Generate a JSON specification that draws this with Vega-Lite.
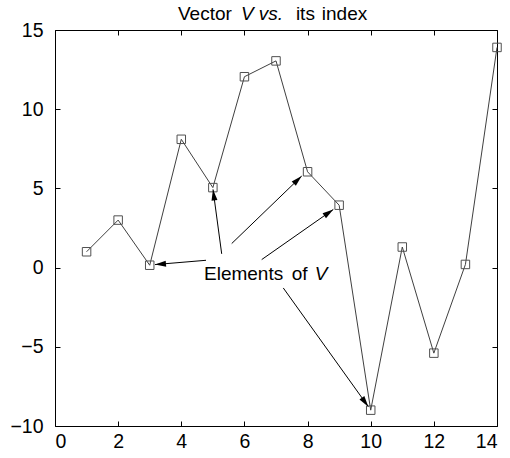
{
  "$schema": "https://vega.github.io/schema/vega-lite/v6.json",
  "width": 442,
  "height": 396,
  "autosize": "none",
  "padding": {"left": 55, "top": 30, "right": 13, "bottom": 32},
  "background": "white",
  "config": {
    "view": {"stroke": null},
    "font": "Liberation Sans",
    "axis": {
      "grid": false,
      "domainColor": "#000000",
      "domainWidth": 1,
      "tickColor": "#000000",
      "tickWidth": 1,
      "tickSize": -5,
      "labelFont": "Liberation Sans",
      "labelFontSize": 19.5,
      "labelColor": "#000000",
      "title": null
    }
  },
  "datasets": {
    "v": [
      {"index": 1, "value": 1.0},
      {"index": 2, "value": 3.0},
      {"index": 3, "value": 0.15},
      {"index": 4, "value": 8.1},
      {"index": 5, "value": 5.05},
      {"index": 6, "value": 12.05},
      {"index": 7, "value": 13.05},
      {"index": 8, "value": 6.05},
      {"index": 9, "value": 3.94},
      {"index": 10, "value": -9.0},
      {"index": 11, "value": 1.3},
      {"index": 12, "value": -5.4},
      {"index": 13, "value": 0.2},
      {"index": 14, "value": 13.9}
    ],
    "arrows": [
      {"x": 4.783, "y": 0.462, "x2": 3.167, "y2": 0.19},
      {"x": 5.28, "y": 0.867, "x2": 5.005, "y2": 4.937},
      {"x": 5.597, "y": 1.519, "x2": 7.814, "y2": 5.778},
      {"x": 6.547, "y": 0.506, "x2": 8.815, "y2": 3.671},
      {"x": 7.231, "y": -1.285, "x2": 9.924, "y2": -8.778}
    ],
    "plainText": [
      {"text": "Elements", "x": 4.72, "y": -0.78},
      {"text": "of", "x": 7.5, "y": -0.78},
      {"text": "Vector", "x": 3.894, "y": 15.6},
      {"text": "its", "x": 7.63, "y": 15.6},
      {"text": "index", "x": 8.45, "y": 15.6}
    ],
    "italicText": [
      {"text": "V", "x": 8.23, "y": -0.78},
      {"text": "V vs.", "x": 5.888, "y": 15.6}
    ]
  },
  "layer": [
    {
      "data": {"name": "v"},
      "mark": {"type": "line", "color": "#404040", "strokeWidth": 1},
      "encoding": {
        "x": {"field": "index", "type": "quantitative",
              "scale": {"domain": [0, 14], "nice": false, "zero": false},
              "axis": {"orient": "bottom", "values": [0, 2, 4, 6, 8, 10, 12, 14], "labelPadding": 11}},
        "y": {"field": "value", "type": "quantitative",
              "scale": {"domain": [-10, 15], "nice": false, "zero": false},
              "axis": {"orient": "left", "values": [-10, -5, 0, 5, 10, 15], "labelPadding": 17}}
      }
    },
    {
      "data": {"name": "v"},
      "mark": {"type": "point", "shape": "square", "filled": false, "size": 72, "stroke": "#505050", "strokeWidth": 1, "opacity": 1},
      "encoding": {
        "x": {"field": "index", "type": "quantitative",
              "axis": {"orient": "top", "values": [0, 2, 4, 6, 8, 10, 12, 14], "labels": false}},
        "y": {"field": "value", "type": "quantitative",
              "axis": {"orient": "right", "values": [-10, -5, 0, 5, 10, 15], "labels": false}}
      }
    },
    {
      "data": {"name": "arrows"},
      "mark": {"type": "rule", "color": "#000000", "strokeWidth": 1},
      "encoding": {
        "x": {"field": "x", "type": "quantitative", "axis": null},
        "y": {"field": "y", "type": "quantitative", "axis": null},
        "x2": {"field": "x2"},
        "y2": {"field": "y2"}
      }
    },
    {
      "data": {"name": "arrows"},
      "transform": [
        {"calculate": "atan2((datum.x2 - datum.x) * 31.59, (datum.y2 - datum.y) * 15.86) * 180 / PI", "as": "angle"}
      ],
      "mark": {"type": "point", "shape": "M0,0 L-0.6,2.2 L0.6,2.2 Z", "filled": true, "color": "#000000", "size": 100, "opacity": 1},
      "encoding": {
        "x": {"field": "x2", "type": "quantitative", "axis": null},
        "y": {"field": "y2", "type": "quantitative", "axis": null},
        "angle": {"field": "angle", "type": "quantitative", "scale": null}
      }
    },
    {
      "data": {"name": "plainText"},
      "mark": {"type": "text", "align": "left", "baseline": "alphabetic", "font": "Liberation Sans", "fontSize": 19, "color": "#000000", "clip": false},
      "encoding": {
        "x": {"field": "x", "type": "quantitative", "axis": null},
        "y": {"field": "y", "type": "quantitative", "axis": null},
        "text": {"field": "text"}
      }
    },
    {
      "data": {"name": "italicText"},
      "mark": {"type": "text", "align": "left", "baseline": "alphabetic", "font": "Liberation Sans", "fontSize": 19, "fontStyle": "italic", "color": "#000000", "clip": false},
      "encoding": {
        "x": {"field": "x", "type": "quantitative", "axis": null},
        "y": {"field": "y", "type": "quantitative", "axis": null},
        "text": {"field": "text"}
      }
    }
  ]
}
